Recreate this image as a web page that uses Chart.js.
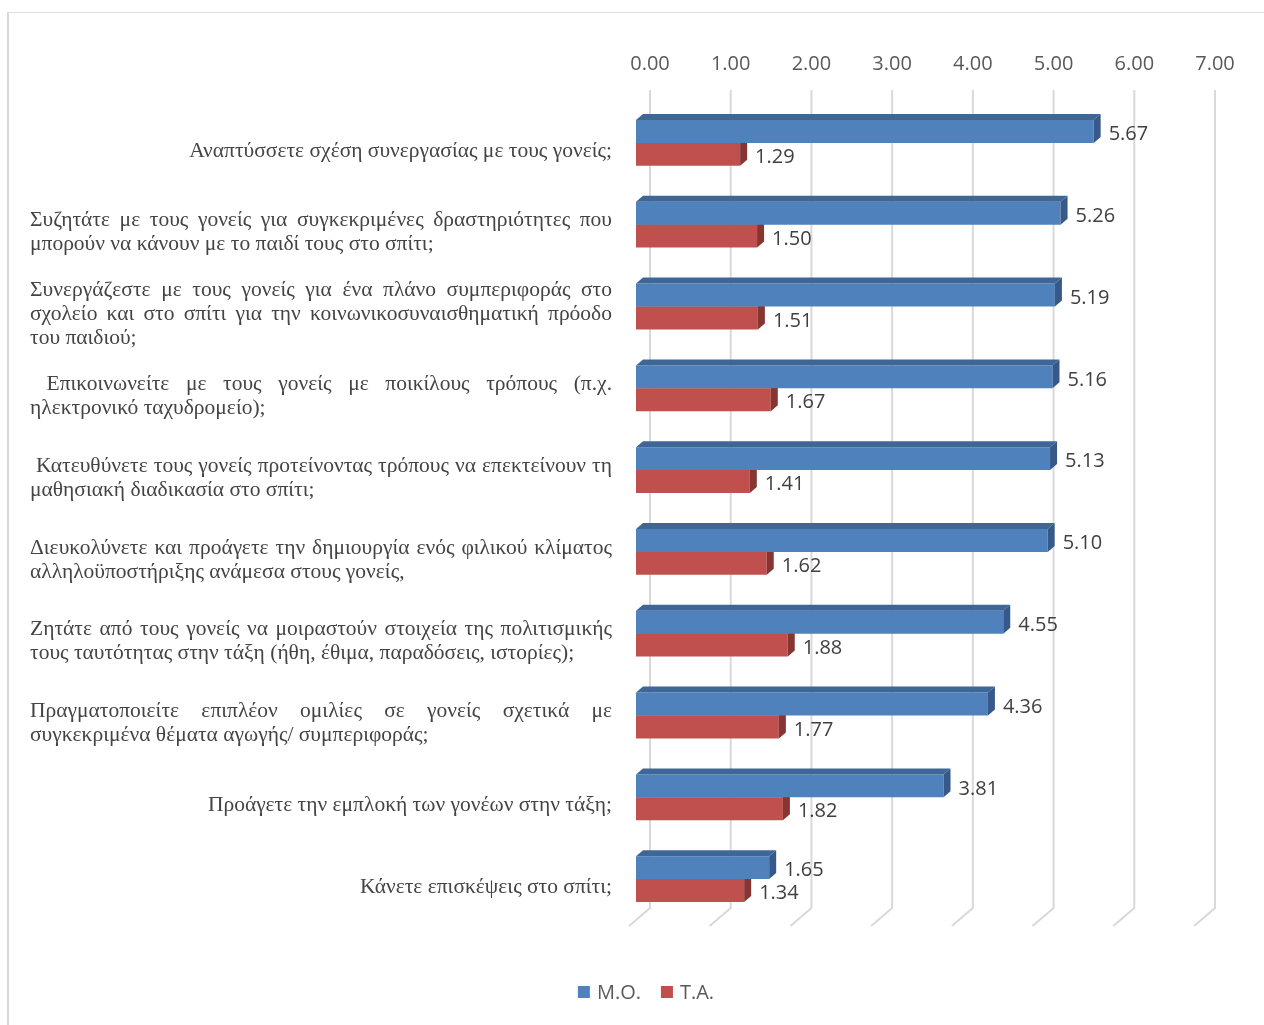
<!DOCTYPE html>
<html>
<head>
<meta charset="utf-8">
<script src="https://cdn.jsdelivr.net/npm/chart.js@4/dist/chart.umd.min.js"></script>
<style>
  html, body { margin: 0; padding: 0; background: #fff; }
  canvas { display: block; }
</style>
</head>
<body>
<canvas id="chart" width="1264" height="1025"></canvas>
<script>
// question labels, already broken into lines
const categories = [
  ["Αναπτύσσετε σχέση συνεργασίας με τους γονείς;"],
  ["Συζητάτε με τους γονείς για συγκεκριμένες δραστηριότητες που",
   "μπορούν να κάνουν με το παιδί τους στο σπίτι;"],
  ["Συνεργάζεστε με τους γονείς για ένα πλάνο συμπεριφοράς στο",
   "σχολείο και στο σπίτι για την κοινωνικοσυναισθηματική πρόοδο",
   "του παιδιού;"],
  [" Επικοινωνείτε με τους γονείς με ποικίλους τρόπους (π.χ.",
   "ηλεκτρονικό ταχυδρομείο);"],
  [" Κατευθύνετε τους γονείς προτείνοντας τρόπους να επεκτείνουν τη",
   "μαθησιακή διαδικασία στο σπίτι;"],
  ["Διευκολύνετε και προάγετε την δημιουργία ενός φιλικού κλίματος",
   "αλληλοϋποστήριξης ανάμεσα στους γονείς,"],
  ["Ζητάτε από τους γονείς να μοιραστούν στοιχεία της πολιτισμικής",
   "τους ταυτότητας στην τάξη (ήθη, έθιμα, παραδόσεις, ιστορίες);"],
  ["Πραγματοποιείτε επιπλέον ομιλίες σε γονείς σχετικά με",
   "συγκεκριμένα θέματα αγωγής/ συμπεριφοράς;"],
  ["Προάγετε την εμπλοκή των γονέων στην τάξη;"],
  ["Κάνετε επισκέψεις στο σπίτι;"]
];
const meanValues = [5.67, 5.26, 5.19, 5.16, 5.13, 5.10, 4.55, 4.36, 3.81, 1.65];
const sdValues = [1.29, 1.50, 1.51, 1.67, 1.41, 1.62, 1.88, 1.77, 1.82, 1.34];
const seriesNames = ["M.O.", "T.A."];
const tickValues = [0, 1, 2, 3, 4, 5, 6, 7];

const front = ["#4f81bd", "#c0504d"];
const topFace = ["#3e6797", "#9a3f3d"];
const sideFace = ["#36598a", "#863533"];

// depth of a bar and of the back wall
const DX = 7, DY = -6;
const WALL_DX = 14;

const sansFont = "20px 'Open Sans', sans-serif";
const serifFont = "21.5px 'Liberation Serif', 'Times New Roman', serif";

const pseudo3d = {
  id: "pseudo3d",
  beforeDraw(chart) {
    const ctx = chart.ctx;
    ctx.save();
    ctx.fillStyle = "#fff";
    ctx.fillRect(0, 0, chart.width, chart.height);
    // outer frame
    ctx.fillStyle = "#d6d6d6";
    ctx.fillRect(7, 12, 2, chart.height - 12);
    ctx.fillStyle = "#dedede";
    ctx.fillRect(7, 12, chart.width - 7, 1);
    ctx.restore();
  },
  beforeDatasetsDraw(chart) {
    const ctx = chart.ctx;
    const xs = chart.scales.x;
    const area = chart.chartArea;
    ctx.save();
    ctx.strokeStyle = "#d9d9d9";
    ctx.lineWidth = 2;
    tickValues.forEach(v => {
      const px = xs.getPixelForValue(v);
      ctx.beginPath();
      ctx.moveTo(px + WALL_DX, area.top - 12);
      ctx.lineTo(px + WALL_DX, area.bottom - 12);
      ctx.lineTo(px - 7, area.bottom + 6);
      ctx.stroke();
    });
    // axis tick labels above the wall
    ctx.fillStyle = "#595959";
    ctx.font = sansFont;
    ctx.textAlign = "center";
    ctx.textBaseline = "middle";
    tickValues.forEach(v => {
      ctx.fillText(v.toFixed(2), xs.getPixelForValue(v) + WALL_DX, 64);
    });
    ctx.restore();
  },
  afterDatasetDraw(chart, args) {
    const ctx = chart.ctx;
    const i = args.index;
    const meta = args.meta;
    ctx.save();
    meta.data.forEach(bar => {
      const p = bar.getProps(["x", "y", "base", "height"], true);
      const top = p.y - p.height / 2;
      const bottom = p.y + p.height / 2;
      ctx.fillStyle = topFace[i];
      ctx.beginPath();
      ctx.moveTo(p.base, top);
      ctx.lineTo(p.base + DX, top + DY);
      ctx.lineTo(p.x + DX, top + DY);
      ctx.lineTo(p.x, top);
      ctx.closePath();
      ctx.fill();
      ctx.fillStyle = sideFace[i];
      ctx.beginPath();
      ctx.moveTo(p.x, top);
      ctx.lineTo(p.x + DX, top + DY);
      ctx.lineTo(p.x + DX, bottom + DY);
      ctx.lineTo(p.x, bottom);
      ctx.closePath();
      ctx.fill();
    });
    ctx.restore();
  },
  afterDatasetsDraw(chart) {
    const ctx = chart.ctx;
    ctx.save();
    ctx.font = sansFont;
    ctx.fillStyle = "#404040";
    ctx.textAlign = "left";
    ctx.textBaseline = "middle";
    chart.data.datasets.forEach((ds, i) => {
      chart.getDatasetMeta(i).data.forEach((bar, j) => {
        const p = bar.getProps(["x", "y"], true);
        ctx.fillText(ds.data[j].toFixed(2), p.x + DX + 8, p.y + 3);
      });
    });

    // question labels, justified like the source text
    const ys = chart.scales.y;
    const right = 612, width = 582, lineH = 24;
    ctx.font = serifFont;
    ctx.fillStyle = "#444";
    categories.forEach((lines, i) => {
      const cy = ys.getPixelForValue(i) + 8;
      lines.forEach((line, k) => {
        const y = cy + (k - (lines.length - 1) / 2) * lineH;
        if (lines.length === 1) {
          ctx.textAlign = "right";
          ctx.fillText(line, right, y);
        } else if (k === lines.length - 1) {
          ctx.textAlign = "left";
          ctx.fillText(line, right - width, y, width);
        } else {
          ctx.textAlign = "left";
          const words = line.split(" ");
          const used = words.reduce((s, w) => s + ctx.measureText(w).width, 0);
          const space = ctx.measureText(" ").width;
          let gap = (width - used) / (words.length - 1);
          // squeeze glyphs slightly when the line is too long for the box
          let sx = 1;
          if (gap < space * 0.6) {
            gap = space * 0.6;
            sx = (width - gap * (words.length - 1)) / used;
          }
          let x = right - width;
          words.forEach(w => {
            const ww = ctx.measureText(w).width * sx;
            ctx.fillText(w, x, y, ww);
            x += ww + gap;
          });
        }
      });
    });

    // legend
    ctx.font = sansFont;
    ctx.textAlign = "left";
    const items = chart.data.datasets.map((ds, i) => ({
      label: ds.label, color: front[i], w: ctx.measureText(ds.label).width
    }));
    const total = items.reduce((s, it) => s + 12 + 7 + it.w, 0) + 20 * (items.length - 1);
    let lx = 646 - total / 2;
    const ly = 992;
    items.forEach(it => {
      ctx.fillStyle = it.color;
      ctx.fillRect(lx, ly - 6, 12, 12);
      ctx.fillStyle = "#595959";
      ctx.fillText(it.label, lx + 19, ly + 1);
      lx += 12 + 7 + it.w + 20;
    });
    ctx.restore();
  }
};

new Chart(document.getElementById("chart"), {
  type: "bar",
  data: {
    labels: categories,
    datasets: [
      { label: seriesNames[0], data: meanValues, backgroundColor: front[0] },
      { label: seriesNames[1], data: sdValues, backgroundColor: front[1] }
    ]
  },
  options: {
    indexAxis: "y",
    responsive: false,
    devicePixelRatio: 1,
    animation: false,
    layout: { padding: { left: 636, right: 63, top: 102, bottom: 105 } },
    categoryPercentage: 0.56,
    barPercentage: 1,
    scales: {
      x: { display: false, min: 0, max: 7 },
      y: { display: false }
    },
    plugins: {
      legend: { display: false },
      tooltip: { enabled: false }
    }
  },
  plugins: [pseudo3d]
});
</script>
</body>
</html>
